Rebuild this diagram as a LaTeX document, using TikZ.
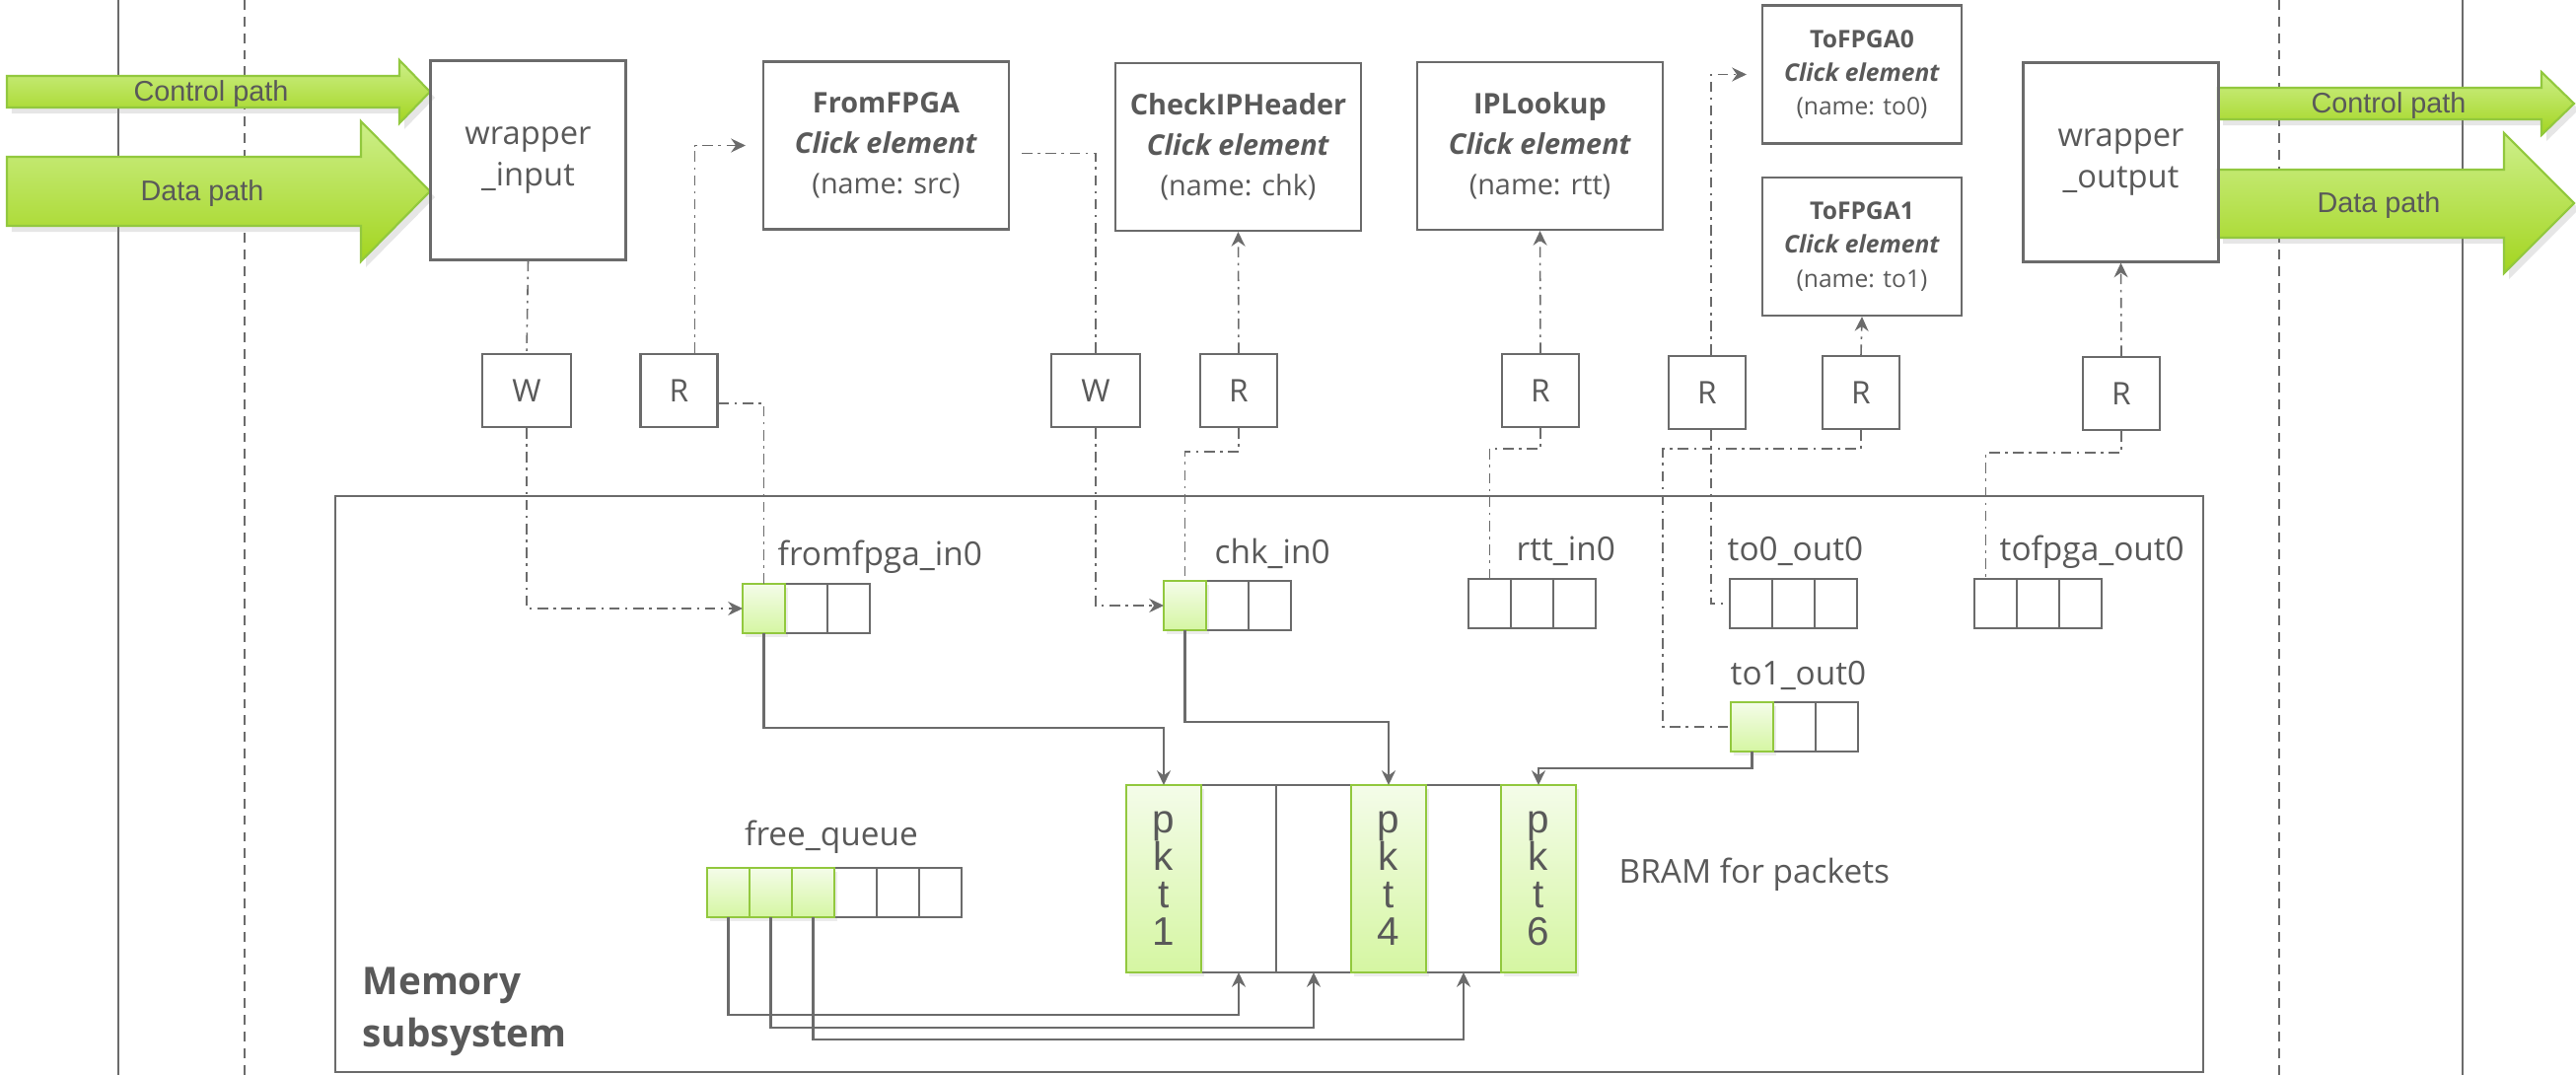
\documentclass[tikz,border=0pt]{standalone}
\usepackage{fontspec}
\setmainfont{Open Sans}
\newfontfamily\arialfont{Liberation Sans}
\usetikzlibrary{arrows.meta,shadows,positioning}
\definecolor{linegray}{HTML}{6B6B6B}
\definecolor{textgray}{HTML}{595959}
\definecolor{greenedge}{HTML}{92C83E}
\definecolor{greenlight}{HTML}{F4FCE9}
\definecolor{greenpale}{HTML}{D5F6A2}
\definecolor{arrowtop}{HTML}{CDEF8A}
\definecolor{arrowbottom}{HTML}{A3D51F}
\begin{document}
\begin{tikzpicture}[x=0.1mm, y=-0.1mm, every node/.style={text=textgray},
  >={Stealth[length=4.2pt,width=4pt,inset=1.4pt]},
  elem/.style={draw=linegray,line width=0.6pt,minimum width=24.9mm,minimum height=17mm,align=center,inner sep=0,font=\fontsize{8.2}{11.6}\selectfont},
  smallelem/.style={elem,minimum width=20.2mm,minimum height=14mm,font=\fontsize{7}{9.8}\selectfont},
  wrapbox/.style={draw=linegray,line width=0.6pt,minimum width=19.8mm,minimum height=20.2mm,align=center,font=\fontsize{9.3}{12}\selectfont},
  port/.style={draw=linegray,line width=0.6pt,minimum width=7.8mm,minimum height=7.4mm,font=\fontsize{9}{11}\selectfont},
  wport/.style={port,minimum width=9mm},
  cell/.style={draw=linegray,line width=0.6pt,minimum width=4.3mm,minimum height=5mm,inner sep=0,outer sep=0},
  slot/.style={cell,minimum width=7.6mm,minimum height=19mm,align=center,font=\arialfont\fontsize{11.5}{10.8}\selectfont},
  full/.style={draw=greenedge,line width=0.8pt,top color=greenlight,bottom color=greenpale,
    drop shadow={opacity=0.15,shadow xshift=0.3mm,shadow yshift=-0.4mm}},
  qlabel/.style={anchor=base west,inner sep=0,font=\fontsize{9.5}{11}\selectfont},
  dd/.style={draw=linegray,line width=0.45pt,dash pattern=on 3pt off 1.6pt on 0.7pt off 1.6pt},
  link/.style={draw=linegray,line width=0.6pt},
  bigarrow/.style={draw=greenedge,line width=0.6pt,top color=arrowtop,bottom color=arrowbottom,
    drop shadow={opacity=0.2,shadow xshift=0.5mm,shadow yshift=-0.6mm}},
  pathlabel/.style={inner sep=0,font=\arialfont\fontsize{8.2}{10}\selectfont}]
\useasboundingbox (0,0) rectangle (2612,1090);
% borders of the FPGA / wrapper
\draw[linegray,line width=0.5pt] (120,0) -- (120,1090);
\draw[linegray,line width=0.5pt,dash pattern=on 2.8pt off 2pt] (248,0) -- (248,1090);
\draw[linegray,line width=0.5pt,dash pattern=on 2.8pt off 2pt] (2311,0) -- (2311,1090);
\draw[linegray,line width=0.5pt] (2497,0) -- (2497,1090);
% control and data paths
\draw[bigarrow] (7,77) -- (405,77) -- (405,61) -- (436,93) -- (405,125) -- (405,109) -- (7,109) -- cycle;
\draw[bigarrow] (7,159) -- (366,159) -- (366,123) -- (436,194) -- (366,265) -- (366,229) -- (7,229) -- cycle;
\draw[bigarrow] (2249,89) -- (2577,89) -- (2577,73) -- (2610,105) -- (2577,137) -- (2577,121) -- (2249,121) -- cycle;
\draw[bigarrow] (2249,172) -- (2539,172) -- (2539,135) -- (2610,206) -- (2539,277) -- (2539,241) -- (2249,241) -- cycle;
\node[pathlabel] (ctlin) at (214,95) {Control path};
\node[pathlabel] (datin) at (205,196) {Data path};
\node[pathlabel] (ctlout) at (2422,107) {Control path};
\node[pathlabel] (datout) at (2412,208) {Data path};
% click elements
\node[wrapbox] (wrapin) at (535.5,162.5) {wrapper\\\_input};
\node[elem] (src) at (898.5,147.5) {\textbf{FromFPGA}\\\textbf{\textit{Click element}}\\(name: src)};
\node[elem] (chk) at (1255.5,149) {\textbf{CheckIPHeader}\\\textbf{\textit{Click element}}\\(name: chk)};
\node[elem] (rtt) at (1561.5,148) {\textbf{IPLookup}\\\textbf{\textit{Click element}}\\(name: rtt)};
\node[smallelem] (to0) at (1888,75.5) {\textbf{ToFPGA0}\\\textbf{\textit{Click element}}\\(name: to0)};
\node[smallelem] (to1) at (1888,250) {\textbf{ToFPGA1}\\\textbf{\textit{Click element}}\\(name: to1)};
\node[wrapbox] (wrapout) at (2150.5,164.5) {wrapper\\\_output};
% read / write ports
\node[wport] (w1) at (534,396) {W};
\node[port] (r1) at (688.5,396) {R};
\node[wport] (w2) at (1111,396) {W};
\node[port] (r2) at (1256,396) {R};
\node[port] (r3) at (1562,396) {R};
\node[port] (r4) at (1731,398) {R};
\node[port] (r5) at (1887,398) {R};
\node[port] (r6) at (2151,399) {R};
% memory subsystem
\node[draw=linegray,line width=0.6pt,minimum width=189.4mm,minimum height=58.4mm,inner sep=0] (mem) at (1287,795) {};
\node[anchor=north west,align=left,inner sep=0,font=\bfseries\fontsize{11}{15}\selectfont] (memlbl) at (367,980) {Memory\\subsystem};
% queues
\foreach \i/\x in {2/817.5,3/860.5} \node[cell] (fin\i) at (\x,617) {};
\node[cell,full] (fin1) at (774.5,617) {};
\foreach \i/\x in {2/1244.5,3/1287.5} \node[cell] (cin\i) at (\x,614) {};
\node[cell,full] (cin1) at (1201.5,614) {};
\foreach \i/\x in {1/1510.5,2/1553.5,3/1596.5} \node[cell] (rin\i) at (\x,612) {};
\foreach \i/\x in {1/1775.5,2/1818.5,3/1861.5} \node[cell] (t0q\i) at (\x,612) {};
\foreach \i/\x in {1/2023.5,2/2066.5,3/2109.5} \node[cell] (tfq\i) at (\x,612) {};
\foreach \i/\x in {2/1819.5,3/1862.5} \node[cell] (t1q\i) at (\x,737) {};
\node[cell,full] (t1q1) at (1776.5,737) {};
\foreach \i/\x in {4/867.5,5/910.5,6/953.5} \node[cell] (fq\i) at (\x,905) {};
\foreach \i/\x in {1/738.5,2/781.5,3/824.5} \node[cell,full] (fq\i) at (\x,905) {};
\node[qlabel] (finlbl) at (788,573) {fromfpga\_in0};
\node[qlabel] (cinlbl) at (1231,571) {chk\_in0};
\node[qlabel] (rinlbl) at (1537,568) {rtt\_in0};
\node[qlabel] (t0lbl) at (1751,568) {to0\_out0};
\node[qlabel] (tflbl) at (2027,568) {tofpga\_out0};
\node[qlabel] (t1lbl) at (1754,694) {to1\_out0};
\node[qlabel,anchor=base] (fqlbl) at (843,857) {free\_queue};
% packet buffer
\foreach \i/\x in {2/1256,3/1332,5/1484} \node[slot] (b\i) at (\x,891) {};
\node[slot,full] (b1) at (1180,891) {p\\k\\t\\1};
\node[slot,full] (b4) at (1408,891) {p\\k\\t\\4};
\node[slot,full] (b6) at (1560,891) {p\\k\\t\\6};
\node[qlabel] (bramlbl) at (1641,895) {BRAM for packets};
% port wiring
\draw[dd] (wrapin.south) -- (w1.north);
\draw[dd,->] (w1.south) |- (fin1.west);
\draw[dd] (fin1.north) |- ([yshift=-1.3mm]r1.east);
\draw[dd,->] ([xshift=1.6mm]r1.north) |- ([xshift=-1.7mm]src.west);
\draw[dd] ([xshift=1.2mm,yshift=-0.8mm]src.east) -| (w2.north);
\draw[dd,->] (w2.south) |- (cin1.west);
\draw[dd,->] (r2.north) -- (chk.south);
\draw[dd] (r2.south) -- ++(0,24) -| (cin1.north);
\draw[dd,->] (r3.north) -- (rtt.south);
\draw[dd] (r3.south) -- ++(0,21) -| (rin1.north);
\draw[dd,->] ([xshift=0.4mm]r4.north) |- ([xshift=-1.5mm]to0.west);
\draw[dd] ([xshift=0.4mm]r4.south) |- (t0q1.west);
\draw[dd,->] (r5.north) -- (to1.south);
\draw[dd] (r5.south) -- ++(0,19) -| ([xshift=-6.9mm]t1q1.west) -- (t1q1.west);
\draw[dd,->] (r6.north) -- (wrapout.south);
\draw[dd] (r6.south) -- ++(0,22) -| ([xshift=-1mm]tfq1.north);
% packet pointers
\draw[link,->] (fin1.south) -- ++(0,96) -| (b1.north);
\draw[link,->] (cin1.south) -- ++(0,93) -| (b4.north);
\draw[link,->] (t1q1.south) -- ++(0,17) -| (b6.north);
\draw[link,->] (fq1.south) -- ++(0,99) -| (b2.south);
\draw[link,->] (fq2.south) -- ++(0,112) -| (b3.south);
\draw[link,->] (fq3.south) -- ++(0,124) -| (b5.south);
\end{tikzpicture}
\end{document}
